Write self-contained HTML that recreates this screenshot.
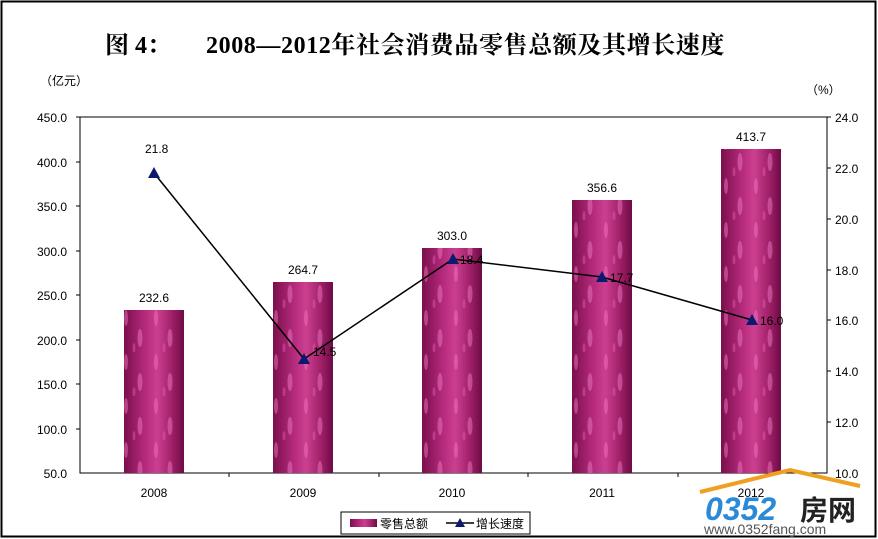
<!DOCTYPE html>
<html><head><meta charset="utf-8"><style>
html,body{margin:0;padding:0;background:#fff;}
svg{display:block;font-family:"Liberation Sans","Noto Sans CJK SC",sans-serif;}
</style></head><body>
<svg width="878" height="539" viewBox="0 0 878 539" xmlns="http://www.w3.org/2000/svg">
<defs>
<linearGradient id="bar" x1="0" x2="1" y1="0" y2="0">
<stop offset="0" stop-color="#7a0f4c"/>
<stop offset="0.35" stop-color="#b52a7c"/>
<stop offset="0.55" stop-color="#cc3f90"/>
<stop offset="0.8" stop-color="#a02069"/>
<stop offset="1" stop-color="#6e0b44"/>
</linearGradient>
<pattern id="spots" width="30" height="44" patternUnits="userSpaceOnUse">
<ellipse cx="6" cy="10" rx="2" ry="8" fill="#f070c0" opacity="0.5"/>
<ellipse cx="20" cy="30" rx="2.5" ry="9" fill="#f080c8" opacity="0.45"/>
<ellipse cx="14" cy="40" rx="1.5" ry="5" fill="#f060b8" opacity="0.4"/>
</pattern>
</defs>
<rect x="1.5" y="1.5" width="874" height="535" fill="#fff" stroke="#000" stroke-width="2"/>
<text x="105" y="53" font-family="Liberation Serif,'Noto Serif CJK SC',serif" font-weight="bold" font-size="24" fill="#000">图 4：</text>
<text x="206" y="53" font-family="Liberation Serif,'Noto Serif CJK SC',serif" font-weight="bold" font-size="24" letter-spacing="0.6" fill="#000">2008—2012年社会消费品零售总额及其增长速度</text>
<text x="40" y="85" font-size="12">（亿元）</text>
<text x="806" y="94" font-size="12">（%）</text>
<rect x="80" y="117" width="747" height="356" fill="none" stroke="#000" stroke-width="1"/>
<g font-size="12" fill="#000" text-anchor="end">
<text x="67" y="122">450.0</text><text x="67" y="167">400.0</text><text x="67" y="211">350.0</text><text x="67" y="256">300.0</text><text x="67" y="300">250.0</text><text x="67" y="345">200.0</text><text x="67" y="389">150.0</text><text x="67" y="434">100.0</text><text x="67" y="478">50.0</text>
</g>
<g stroke="#000"><line x1="76" y1="117" x2="80" y2="117"/><line x1="76" y1="162" x2="80" y2="162"/><line x1="76" y1="206" x2="80" y2="206"/><line x1="76" y1="251" x2="80" y2="251"/><line x1="76" y1="295" x2="80" y2="295"/><line x1="76" y1="340" x2="80" y2="340"/><line x1="76" y1="384" x2="80" y2="384"/><line x1="76" y1="429" x2="80" y2="429"/>
<line x1="827" y1="117" x2="831" y2="117"/><line x1="827" y1="168" x2="831" y2="168"/><line x1="827" y1="219" x2="831" y2="219"/><line x1="827" y1="270" x2="831" y2="270"/><line x1="827" y1="320" x2="831" y2="320"/><line x1="827" y1="371" x2="831" y2="371"/><line x1="827" y1="422" x2="831" y2="422"/>
<line x1="229" y1="473" x2="229" y2="477"/><line x1="379" y1="473" x2="379" y2="477"/><line x1="528" y1="473" x2="528" y2="477"/><line x1="678" y1="473" x2="678" y2="477"/></g>
<g font-size="12" fill="#000">
<text x="835" y="122">24.0</text><text x="835" y="173">22.0</text><text x="835" y="224">20.0</text><text x="835" y="275">18.0</text><text x="835" y="325">16.0</text><text x="835" y="376">14.0</text><text x="835" y="427">12.0</text><text x="835" y="478">10.0</text>
</g>
<g>
<rect x="124" y="310" width="60" height="163" fill="url(#bar)"/><rect x="124" y="310" width="60" height="163" fill="url(#spots)"/>
<rect x="273" y="282" width="60" height="191" fill="url(#bar)"/><rect x="273" y="282" width="60" height="191" fill="url(#spots)"/>
<rect x="422" y="248" width="60" height="225" fill="url(#bar)"/><rect x="422" y="248" width="60" height="225" fill="url(#spots)"/>
<rect x="572" y="200" width="60" height="273" fill="url(#bar)"/><rect x="572" y="200" width="60" height="273" fill="url(#spots)"/>
<rect x="721" y="149" width="60" height="324" fill="url(#bar)"/><rect x="721" y="149" width="60" height="324" fill="url(#spots)"/>
</g>
<g font-size="12" text-anchor="middle" fill="#000">
<text x="154" y="302">232.6</text><text x="303" y="274">264.7</text><text x="452" y="240">303.0</text><text x="602" y="192">356.6</text><text x="751" y="141">413.7</text>
<text x="154" y="497">2008</text><text x="303" y="497">2009</text><text x="452" y="497">2010</text><text x="602" y="497">2011</text><text x="751" y="497">2012</text>
</g>
<polyline points="154,173 304,359 453,259 602,277 752,320" fill="none" stroke="#000" stroke-width="1.5"/>
<g fill="#0a1a6e">
<polygon points="154,167 148,178 160,178"/><polygon points="304,353 298,364 310,364"/><polygon points="453,253 447,264 459,264"/><polygon points="602,271 596,282 608,282"/><polygon points="752,314 746,325 758,325"/>
</g>
<g font-size="12" fill="#000">
<text x="145" y="153">21.8</text><text x="313" y="356">14.5</text><text x="460" y="264">18.4</text><text x="610" y="282">17.7</text><text x="760" y="325">16.0</text>
</g>
<rect x="341" y="512" width="189" height="22" fill="#fff" stroke="#000"/>
<rect x="350" y="519" width="27" height="8" fill="url(#bar)"/>
<text x="380" y="528" font-size="12">零售总额</text>
<line x1="446" y1="523" x2="474" y2="523" stroke="#000" stroke-width="1.5"/>
<polygon points="460,518 455,527 465,527" fill="#0a1a6e"/>
<text x="476" y="528" font-size="12">增长速度</text>
<path d="M700 492 L790 470 L860 486" fill="none" stroke="#f0a020" stroke-width="4"/>
<text x="705" y="520" font-size="32" font-weight="bold" font-style="italic" fill="#2a8ad8">0352</text>
<text x="800" y="520" font-size="28" font-weight="bold" fill="#222">房网</text>
<text x="704" y="534" font-size="14" fill="#555">www.0352fang.com</text>
</svg>
</body></html>
